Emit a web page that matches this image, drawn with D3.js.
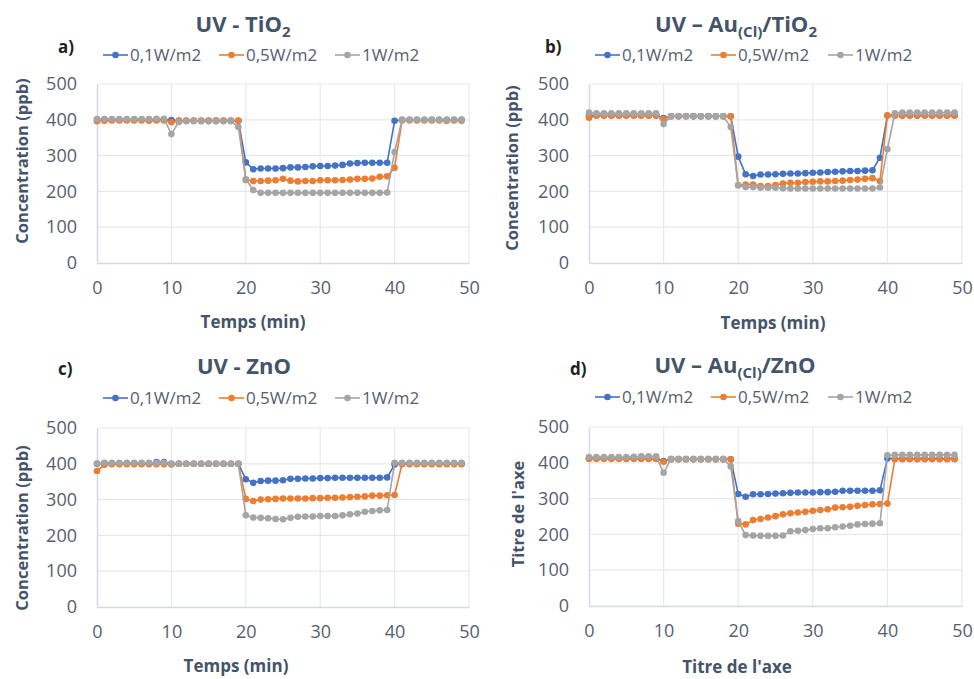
<!DOCTYPE html>
<html><head><meta charset="utf-8">
<script src="https://cdn.jsdelivr.net/npm/d3@7"></script>
<style>body{margin:0;background:#fff}svg{display:block}</style>
</head><body><svg id="c" width="974" height="679"></svg>
<script>
// ---------- data ----------
const minutes = [0,1,2,3,4,5,6,7,8,9,10,11,12,13,14,15,16,17,18,19,20,21,22,23,24,25,26,27,28,29,30,31,32,33,34,35,36,37,38,39,40,41,42,43,44,45,46,47,48,49];
const seriesNames = ["0,1W/m2", "0,5W/m2", "1W/m2"];
const seriesColors = ["#4472C4", "#ED7D31", "#A5A5A5"];
const xTicks = [0, 10, 20, 30, 40, 50];
const yTicks = [0, 100, 200, 300, 400, 500];

// a) UV - TiO2
const tio2_01 = [400,400,400,400,400,400,400,400,400,400,399,397,397,397,397,397,397,397,397,397,281,262,264,264,264,265,267,267,268,270,271,271,272,274,278,279,280,280,280,280,397,400,400,400,400,400,400,400,400,400];
const tio2_05 = [396,397,398,398,398,398,398,397,398,398,393,398,398,398,398,398,398,398,398,398,232,229,229,230,231,235,230,228,229,229,231,231,231,232,233,235,235,236,241,242,266,398,398,398,398,398,398,397,398,397];
const tio2_1  = [402,402,402,402,402,402,402,402,403,403,360,394,396,396,396,396,396,396,396,380,234,204,196,196,196,196,196,196,196,196,196,196,196,196,196,196,196,196,196,197,310,400,400,400,400,400,400,400,400,400];
// b) UV - Au(Cl)/TiO2
const autio2_01 = [412,412,412,412,412,412,412,412,412,412,405,410,410,410,410,410,410,410,410,410,297,248,243,247,247,248,249,250,250,251,252,253,254,255,256,257,257,258,259,294,412,412,412,412,412,412,412,412,412,412];
const autio2_05 = [406,412,412,412,412,412,412,412,412,412,402,410,410,410,410,410,410,410,410,410,217,219,219,215,215,218,222,224,224,226,227,228,228,229,230,232,233,235,237,229,412,412,412,412,412,412,412,412,412,412];
const autio2_1  = [420,418,418,418,418,418,418,418,418,418,388,410,410,410,410,410,410,410,410,380,217,212,212,210,210,210,209,208,208,208,208,208,208,208,208,208,208,208,208,211,318,418,420,420,420,420,420,420,420,420];
// c) UV - ZnO
const zno_01 = [400,401,401,401,401,401,401,401,405,405,400,400,400,400,400,400,400,400,400,400,357,347,352,353,353,354,358,358,359,359,360,360,361,361,361,361,361,361,361,362,398,401,401,401,401,401,401,401,401,401];
const zno_05 = [380,397,399,399,399,399,399,399,399,399,398,400,400,400,400,400,400,400,400,400,302,296,300,301,302,303,303,303,303,304,304,305,305,306,307,308,309,311,311,312,313,399,399,399,399,399,399,399,399,399];
const zno_1  = [401,403,403,403,403,403,403,403,403,403,400,400,400,400,400,400,400,400,400,400,256,250,249,248,246,245,249,252,253,253,254,254,254,256,259,261,266,268,270,271,403,403,403,403,403,403,403,403,403,403];
// d) UV - Au(Cl)/ZnO
const auzno_01 = [412,412,412,412,412,412,412,412,412,412,405,410,410,410,410,410,410,410,410,410,313,305,312,312,313,314,315,316,317,317,317,318,318,319,322,322,322,322,322,323,412,412,412,412,412,412,412,412,412,412];
const auzno_05 = [411,411,411,411,411,411,411,411,411,411,403,410,410,410,410,410,410,410,410,410,230,228,240,243,247,251,256,259,261,263,266,268,270,275,276,277,280,282,284,285,286,410,410,410,410,410,410,410,410,410];
const auzno_1  = [416,416,416,416,416,416,417,418,418,418,372,411,411,411,411,411,411,411,411,390,237,198,197,196,196,196,197,209,210,212,215,217,217,220,222,224,228,229,230,231,421,422,422,422,422,422,422,422,422,422];

// titles (segments: [text, isSubscript])
const titleA = [["UV - TiO", false], ["2", true]];
const titleB = [["UV \u2013 Au", false], ["(Cl)", true], ["/TiO", false], ["2", true]];
const titleC = [["UV - ZnO", false]];
const titleD = [["UV \u2013 Au", false], ["(Cl)", true], ["/ZnO", false]];
const yTitleConc = "Concentration (ppb)";
const xTitleTime = "Temps (min)";
const axisTitleDefault = "Titre de l'axe";

// ---------- layout ----------
const panels = [
  {tag:"a)", title:titleA, data:[tio2_01,tio2_05,tio2_1], yTitle:yTitleConc, xTitle:xTitleTime,
   px:[97,469], py:[263,84], titleX:243, titleY:32, tagX:58, tagY:53, legY:55, legX:[103,219,335],
   yTX:22, yTY:161, xTX:253, xTY:328},
  {tag:"b)", title:titleB, data:[autio2_01,autio2_05,autio2_1], yTitle:yTitleConc, xTitle:xTitleTime,
   px:[589,962], py:[263,84], titleX:736, titleY:32, tagX:545, tagY:53, legY:55, legX:[595,711,828],
   yTX:512, yTY:168, xTX:773, xTY:329},
  {tag:"c)", title:titleC, data:[zno_01,zno_05,zno_1], yTitle:yTitleConc, xTitle:xTitleTime,
   px:[97,469], py:[607,428], titleX:244, titleY:374, tagX:58, tagY:375, legY:398, legX:[103,219,335],
   yTX:22, yTY:528, xTX:236, xTY:672},
  {tag:"d)", title:titleD, data:[auzno_01,auzno_05,auzno_1], yTitle:axisTitleDefault, xTitle:axisTitleDefault,
   px:[589,962], py:[606,427], titleX:735, titleY:373, tagX:570, tagY:375, legY:397, legX:[595,711,828],
   yTX:518, yTY:514, xTX:737, xTY:673}
];

const FONT = "'Open Sans', 'DejaVu Sans', sans-serif";
const svg = d3.select("#c");

panels.forEach(p => {
  const g = svg.append("g");
  const x = d3.scaleLinear().domain([0, 50]).range(p.px);
  const y = d3.scaleLinear().domain([0, 500]).range(p.py);

  // gridlines
  g.append("g").selectAll("line").data(yTicks.slice(1)).join("line")
    .attr("x1", p.px[0]).attr("x2", p.px[1])
    .attr("y1", d => y(d)).attr("y2", d => y(d))
    .attr("stroke", "#E5E9EF").attr("stroke-width", 1.2);
  g.append("g").selectAll("line").data(xTicks.slice(1)).join("line")
    .attr("x1", d => x(d)).attr("x2", d => x(d))
    .attr("y1", p.py[0]).attr("y2", p.py[1])
    .attr("stroke", "#E5E9EF").attr("stroke-width", 1.2);

  // axes
  const xAxis = d3.axisBottom(x).tickValues(xTicks).tickSize(0).tickPadding(18);
  const yAxis = d3.axisLeft(y).tickValues(yTicks).tickSize(0).tickPadding(20);
  const gx = g.append("g").attr("transform", `translate(0,${p.py[0]})`).call(xAxis);
  const gy = g.append("g").attr("transform", `translate(${p.px[0]},0)`).call(yAxis);
  [gx, gy].forEach(a => {
    a.select(".domain").attr("stroke", "#D3DAE4").attr("stroke-width", 1.5);
    a.selectAll("text").attr("font-family", FONT).attr("font-size", 18).attr("fill", "#56606F");
  });
  gx.selectAll("text").attr("dy", "0.71em");

  // series
  const line = d3.line().x((d, i) => x(minutes[i])).y(d => y(d));
  p.data.forEach((s, k) => {
    g.append("path").datum(s).attr("d", line).attr("fill", "none")
      .attr("stroke", seriesColors[k]).attr("stroke-width", 1.6);
    g.append("g").selectAll("circle").data(s).join("circle")
      .attr("cx", (d, i) => x(minutes[i])).attr("cy", d => y(d)).attr("r", 3.3)
      .attr("fill", seriesColors[k]);
  });

  // title
  const t = g.append("text").attr("x", p.titleX).attr("y", p.titleY)
    .attr("text-anchor", "middle").attr("font-family", FONT).attr("font-weight", "bold")
    .attr("font-size", 22).attr("fill", "#44546A");
  p.title.forEach((seg, i) => {
    const ts = t.append("tspan").text(seg[0]);
    if (seg[1]) ts.attr("font-size", 15).attr("dy", 5);
    else if (i > 0 && p.title[i - 1][1]) ts.attr("dy", -5);
  });

  // tag
  g.append("text").attr("x", p.tagX).attr("y", p.tagY).text(p.tag)
    .attr("font-family", FONT).attr("font-weight", "bold").attr("font-size", 17).attr("fill", "#1F1F1F");

  // legend
  seriesNames.forEach((n, k) => {
    const lx = p.legX[k];
    g.append("line").attr("x1", lx).attr("x2", lx + 25).attr("y1", p.legY).attr("y2", p.legY)
      .attr("stroke", seriesColors[k]).attr("stroke-width", 1.6);
    g.append("circle").attr("cx", lx + 12.5).attr("cy", p.legY).attr("r", 3.3).attr("fill", seriesColors[k]);
    g.append("text").attr("x", lx + 27).attr("y", p.legY).attr("dy", "0.35em").text(n)
      .attr("font-family", FONT).attr("font-size", 17).attr("fill", "#56606F");
  });

  // axis titles
  g.append("text").attr("transform", `translate(${p.yTX},${p.yTY}) rotate(-90)`)
    .attr("text-anchor", "middle").attr("dy", "0.35em").text(p.yTitle)
    .attr("font-family", FONT).attr("font-weight", "bold").attr("font-size", 16.5).attr("fill", "#44546A");
  g.append("text").attr("x", p.xTX).attr("y", p.xTY).attr("text-anchor", "middle").text(p.xTitle)
    .attr("font-family", FONT).attr("font-weight", "bold").attr("font-size", 17).attr("fill", "#44546A");
});
</script></body></html>
